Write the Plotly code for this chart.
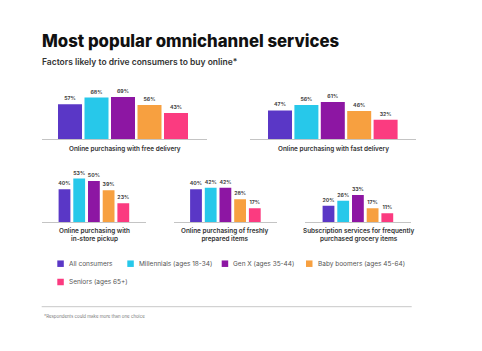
import plotly.graph_objects as go

# ---------------- data ----------------
categories = [
    "Online purchasing with free delivery",
    "Online purchasing with fast delivery",
    "Online purchasing with<br>in-store pickup",
    "Online purchasing of freshly<br>prepared items",
    "Subscription services for frequently<br>purchased grocery items",
]
series_names = [
    "All consumers",
    "Millennials (ages 18-34)",
    "Gen X (ages 35-44)",
    "Baby boomers (ages 45-64)",
    "Seniors (ages 65+)",
]
all_consumers = [57, 47, 40, 40, 20]
millennials = [68, 56, 53, 42, 26]
gen_x = [69, 61, 50, 42, 33]
baby_boomers = [56, 46, 39, 28, 17]
seniors = [43, 32, 23, 17, 11]
series_values = [all_consumers, millennials, gen_x, baby_boomers, seniors]
colors = ["#5a37c6", "#27c8ea", "#8d16a3", "#f7a040", "#fb3b80"]

title = "Most popular omnichannel services"
subtitle = "Factors likely to drive consumers to buy online*"
footnote = "*Respondents could make more than one choice"

# ---------------- layout helpers (pixels) ----------------
W, H = 482, 351
def fx(x):
    return x / W
def fy(y):
    return 1 - y / H

# panel geometry: axis line L..R, first bar centre, pitch, bar width px, row
panels = [
    dict(L=42, R=207, c0=70.0, p=26.5, bw=24.0, row=0),
    dict(L=250, R=416, c0=280.0, p=26.4, bw=24.0, row=0),
    dict(L=42, R=146, c0=64.5, p=14.7, bw=11.8, row=1),
    dict(L=173.5, R=277, c0=196.0, p=14.7, bw=11.8, row=1),
    dict(L=305, R=411, c0=328.5, p=14.7, bw=11.8, row=1),
]
rows = [
    dict(base=139.3, top=85.0, scale=0.613, label_y=149.0),
    dict(base=222.3, top=168.0, scale=0.825, label_y=235.3),
]

fig = go.Figure()
layout = dict()
annotations = []
shapes = []

for k, pn in enumerate(panels):
    rw = rows[pn["row"]]
    ax = "" if k == 0 else str(k + 1)
    for s, name in enumerate(series_names):
        v = series_values[s][k]
        fig.add_trace(go.Bar(
            x=[s], y=[v], width=pn["bw"] / pn["p"],
            marker=dict(color=colors[s], line=dict(width=0)),
            name=name, showlegend=False,
            text=[f"{v}%"], textposition="outside",
            textfont=dict(size=5.2, color="#444444", family="Inter", weight=700),
            constraintext="none", cliponaxis=False,
            xaxis="x" + ax, yaxis="y" + ax, hoverinfo="skip",
        ))
    xr = [(pn["L"] - pn["c0"]) / pn["p"], (pn["R"] - pn["c0"]) / pn["p"]]
    yr = [0, (rw["base"] - rw["top"]) / rw["scale"]]
    layout["xaxis" + ax] = dict(
        domain=[fx(pn["L"]), fx(pn["R"])], range=xr, anchor="y" + ax,
        showgrid=False, zeroline=False, showticklabels=False, ticks="",
        showline=True, linecolor="#c4c4c4", linewidth=1, fixedrange=True,
    )
    layout["yaxis" + ax] = dict(
        domain=[fy(rw["base"]), fy(rw["top"])], range=yr, anchor="x" + ax,
        showgrid=False, zeroline=False, showticklabels=False, ticks="",
        showline=False, fixedrange=True,
    )
    annotations.append(dict(
        text=categories[k], x=fx((pn["L"] + pn["R"]) / 2), y=fy(rw["label_y"]),
        xref="paper", yref="paper", xanchor="center", yanchor="middle",
        showarrow=False, align="center",
        font=dict(size=6.4, color="#333333", family="Inter", weight=600),
    ))

# title / subtitle
annotations.append(dict(
    text=title, x=fx(40), y=fy(41.5), xref="paper", yref="paper",
    xanchor="left", yanchor="middle", showarrow=False,
    font=dict(size=16.8, color="#111111", family="Inter", weight=800),
))
annotations.append(dict(
    text=subtitle, x=fx(40), y=fy(61.5), xref="paper", yref="paper",
    xanchor="left", yanchor="middle", showarrow=False,
    font=dict(size=8.5, color="#333333", family="Inter", weight=600),
))

# legend (manual)
legend_pos = [(57.3, 263.7), (127.3, 263.7), (221.7, 263.7), (306.0, 263.7), (57.3, 282.0)]
sq = 6.5
for (lx, ly), name, c in zip(legend_pos, series_names, colors):
    shapes.append(dict(
        type="rect", xref="paper", yref="paper",
        x0=fx(lx), x1=fx(lx + sq), y0=fy(ly + sq / 2), y1=fy(ly - sq / 2),
        fillcolor=c, line=dict(width=0),
    ))
    annotations.append(dict(
        text=name, x=fx(lx + sq + 3), y=fy(ly), xref="paper", yref="paper",
        xanchor="left", yanchor="middle", showarrow=False,
        font=dict(size=6.5, color="#555555", family="Inter"),
    ))

# separator + footnote
shapes.append(dict(
    type="line", xref="paper", yref="paper",
    x0=fx(41.7), x1=fx(411.7), y0=fy(306.7), y1=fy(306.7),
    line=dict(color="#c8c8c8", width=1),
))
annotations.append(dict(
    text=footnote, x=fx(41.7), y=fy(316.7), xref="paper", yref="paper",
    xanchor="left", yanchor="middle", showarrow=False,
    font=dict(size=4.4, color="#777777", family="Inter"),
))

fig.update_layout(
    **layout,
    width=W, height=H,
    margin=dict(l=0, r=0, t=0, b=0),
    paper_bgcolor="white", plot_bgcolor="white",
    barmode="overlay",
    annotations=annotations, shapes=shapes,
    showlegend=False,
)
fig.write_html("out.html", config={"displayModeBar": False})
